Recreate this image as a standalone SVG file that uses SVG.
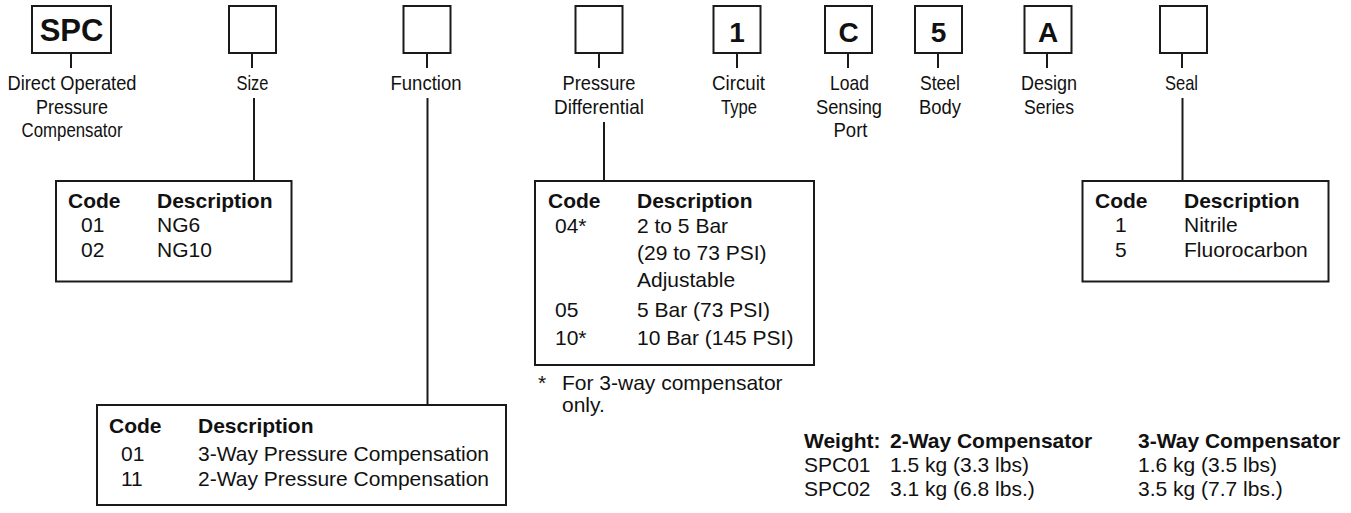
<svg xmlns="http://www.w3.org/2000/svg" width="1351" height="513" viewBox="0 0 1351 513">
<style>
.bx{fill:#fff;stroke:#1a1a1a;stroke-width:2}
.ln{stroke:#1a1a1a;stroke-width:2;fill:none}
.big{font-family:"Liberation Sans",Arial,sans-serif;font-weight:bold;font-size:28px;fill:#111;text-anchor:middle}
.lab{font-family:"Liberation Sans",Arial,sans-serif;font-size:21px;fill:#111;text-anchor:middle}
.th{font-family:"Liberation Sans",Arial,sans-serif;font-weight:bold;font-size:21px;fill:#111}
.td{font-family:"Liberation Sans",Arial,sans-serif;font-size:21px;fill:#111}
</style>
<rect width="1351" height="513" fill="#fff"/>
<g id="connectors">
<line class="ln" x1="71" y1="53" x2="71" y2="68"/>
<line class="ln" x1="252" y1="53" x2="252" y2="68"/>
<line class="ln" x1="427" y1="53" x2="427" y2="68"/>
<line class="ln" x1="599" y1="53" x2="599" y2="68"/>
<line class="ln" x1="737" y1="53" x2="737" y2="68"/>
<line class="ln" x1="848" y1="53" x2="848" y2="68"/>
<line class="ln" x1="938" y1="53" x2="938" y2="68"/>
<line class="ln" x1="1047" y1="53" x2="1047" y2="68"/>
<line class="ln" x1="1182" y1="53" x2="1182" y2="68"/>
<line class="ln" x1="254" y1="98" x2="254" y2="181"/>
<line class="ln" x1="427.5" y1="98" x2="427.5" y2="405"/>
<line class="ln" x1="604" y1="122" x2="604" y2="181"/>
<line class="ln" x1="1182.5" y1="98" x2="1182.5" y2="181"/>
</g>
<g id="spc">
<rect class="bx" x="32" y="6" width="79" height="47"/>
<text class="big" x="71.5" y="41" style="font-size:31px">SPC</text>
<text class="lab" x="72" y="90" textLength="129" lengthAdjust="spacingAndGlyphs">Direct Operated</text>
<text class="lab" x="72" y="113.5" textLength="72" lengthAdjust="spacingAndGlyphs">Pressure</text>
<text class="lab" x="72" y="137" textLength="101" lengthAdjust="spacingAndGlyphs">Compensator</text>
</g>
<g id="size">
<rect class="bx" x="229" y="6" width="47" height="47"/>
<text class="lab" x="252.5" y="90" textLength="32" lengthAdjust="spacingAndGlyphs">Size</text>
</g>
<g id="function">
<rect class="bx" x="403.5" y="6" width="47" height="47"/>
<text class="lab" x="426" y="90" textLength="71" lengthAdjust="spacingAndGlyphs">Function</text>
</g>
<g id="pressure">
<rect class="bx" x="575.5" y="6" width="47" height="47"/>
<text class="lab" x="599" y="90" textLength="73" lengthAdjust="spacingAndGlyphs">Pressure</text>
<text class="lab" x="599" y="113.5" textLength="90" lengthAdjust="spacingAndGlyphs">Differential</text>
</g>
<g id="circuit">
<rect class="bx" x="713.5" y="6" width="47" height="47"/>
<text class="big" x="737" y="42">1</text>
<text class="lab" x="738.5" y="90" textLength="53" lengthAdjust="spacingAndGlyphs">Circuit</text>
<text class="lab" x="739" y="113.5" textLength="36" lengthAdjust="spacingAndGlyphs">Type</text>
</g>
<g id="load">
<rect class="bx" x="825" y="6" width="47" height="47"/>
<text class="big" x="848.5" y="42">C</text>
<text class="lab" x="849.5" y="90" textLength="39" lengthAdjust="spacingAndGlyphs">Load</text>
<text class="lab" x="849" y="113.5" textLength="66" lengthAdjust="spacingAndGlyphs">Sensing</text>
<text class="lab" x="850.5" y="137" textLength="34" lengthAdjust="spacingAndGlyphs">Port</text>
</g>
<g id="steel">
<rect class="bx" x="915" y="6" width="47" height="47"/>
<text class="big" x="938.5" y="42">5</text>
<text class="lab" x="940" y="90" textLength="40" lengthAdjust="spacingAndGlyphs">Steel</text>
<text class="lab" x="940" y="113.5" textLength="42" lengthAdjust="spacingAndGlyphs">Body</text>
</g>
<g id="design">
<rect class="bx" x="1024.5" y="6" width="47" height="47"/>
<text class="big" x="1048" y="42">A</text>
<text class="lab" x="1049" y="90" textLength="56" lengthAdjust="spacingAndGlyphs">Design</text>
<text class="lab" x="1049" y="113.5" textLength="50" lengthAdjust="spacingAndGlyphs">Series</text>
</g>
<g id="seal">
<rect class="bx" x="1160" y="6" width="47" height="47"/>
<text class="lab" x="1181.5" y="90" textLength="33" lengthAdjust="spacingAndGlyphs">Seal</text>
</g>
<g id="size-table">
<rect class="bx" x="56" y="181" width="235.5" height="100.5"/>
<text class="th" x="68" y="208">Code</text>
<text class="th" x="157" y="208">Description</text>
<text class="td" x="81" y="232">01</text>
<text class="td" x="157" y="232">NG6</text>
<text class="td" x="81" y="257">02</text>
<text class="td" x="157" y="257">NG10</text>
</g>
<g id="function-table">
<rect class="bx" x="97" y="405" width="409" height="100"/>
<text class="th" x="109" y="433">Code</text>
<text class="th" x="198" y="433">Description</text>
<text class="td" x="121" y="461">01</text>
<text class="td" x="198" y="461">3-Way Pressure Compensation</text>
<text class="td" x="121" y="486">11</text>
<text class="td" x="198" y="486">2-Way Pressure Compensation</text>
</g>
<g id="pressure-table">
<rect class="bx" x="535" y="181" width="279" height="184"/>
<text class="th" x="548" y="208">Code</text>
<text class="th" x="637" y="208">Description</text>
<text class="td" x="555" y="233">04*</text>
<text class="td" x="637" y="233">2 to 5 Bar</text>
<text class="td" x="637" y="260">(29 to 73 PSI)</text>
<text class="td" x="637" y="287">Adjustable</text>
<text class="td" x="555" y="317">05</text>
<text class="td" x="637" y="317">5 Bar (73 PSI)</text>
<text class="td" x="555" y="345">10*</text>
<text class="td" x="637" y="345">10 Bar (145 PSI)</text>
<text class="td" x="538" y="390">*</text>
<text class="td" x="562" y="390">For 3-way compensator</text>
<text class="td" x="562" y="412">only.</text>
</g>
<g id="seal-table">
<rect class="bx" x="1082.5" y="181" width="246" height="100.5"/>
<text class="th" x="1095" y="208">Code</text>
<text class="th" x="1184" y="208">Description</text>
<text class="td" x="1115" y="232">1</text>
<text class="td" x="1184" y="232">Nitrile</text>
<text class="td" x="1115" y="257">5</text>
<text class="td" x="1184" y="257">Fluorocarbon</text>
</g>
<g id="weights">
<text class="th" x="804" y="448">Weight:</text>
<text class="th" x="890" y="448">2-Way Compensator</text>
<text class="th" x="1138" y="448">3-Way Compensator</text>
<text class="td" x="804" y="472">SPC01</text>
<text class="td" x="890" y="472">1.5 kg (3.3 lbs)</text>
<text class="td" x="1138" y="472">1.6 kg (3.5 lbs)</text>
<text class="td" x="804" y="496">SPC02</text>
<text class="td" x="890" y="496">3.1 kg (6.8 lbs.)</text>
<text class="td" x="1138" y="496">3.5 kg (7.7 lbs.)</text>
</g>
</svg>
